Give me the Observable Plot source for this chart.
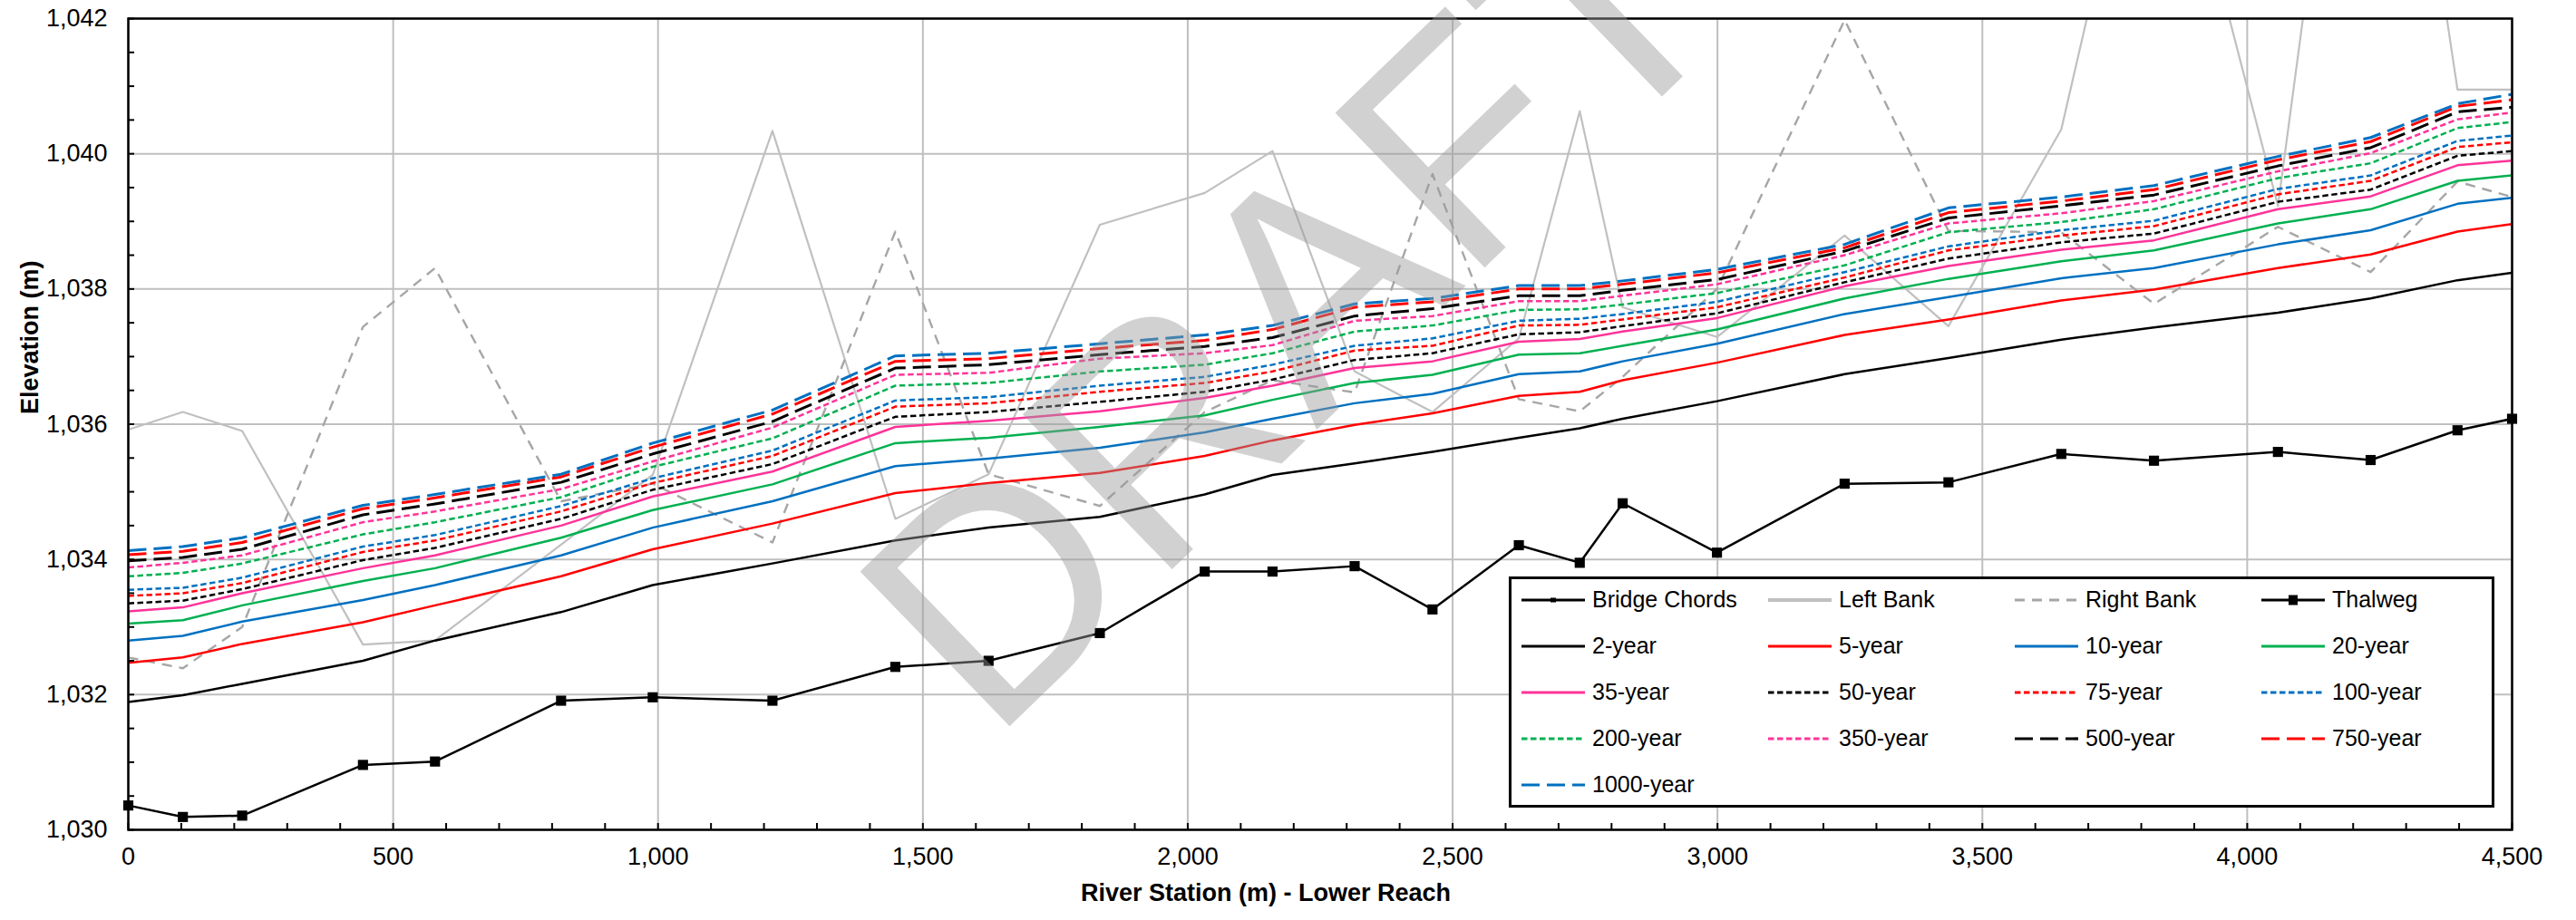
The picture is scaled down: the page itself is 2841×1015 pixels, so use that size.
<!DOCTYPE html>
<html>
<head>
<meta charset="utf-8">
<script src="https://cdn.jsdelivr.net/npm/d3@7"></script>
<script src="https://cdn.jsdelivr.net/npm/@observablehq/plot@0.6"></script>
<style>
  html, body { margin: 0; padding: 0; background: #fff; }
  #chart { position: relative; width: 2841px; height: 1015px; font-family: "Liberation Sans", Arial, Helvetica, sans-serif; }
  #legend { position: absolute; left: 1664px; top: 636px; width: 1087px; height: 255px; box-sizing: border-box;
            border: 3px solid #000; background: #fff; display: grid;
            grid-template-columns: repeat(4, 272px); grid-auto-rows: 51px; padding: 0 0 0 11px; }
  .item { display: flex; align-items: center; font-size: 25px; color: #000; white-space: nowrap; position: relative; top: -3px; }
  .item svg { margin-right: 6px; flex: none; }
</style>
</head>
<body>
<div id="chart"></div>
<script>
// River stations (m) of the surveyed cross sections, lower reach
const stations = [0, 103, 215, 443, 579, 817, 990, 1216, 1448, 1624, 1834, 2032, 2160, 2315, 2462, 2625, 2740, 2821, 2999, 3240, 3436, 3649, 3824, 4058, 4233, 4397, 4500];

// Channel geometry (m)
const thalweg   = [1030.36, 1030.19, 1030.21, 1030.96, 1031.01, 1031.91, 1031.96, 1031.91, 1032.41, 1032.50, 1032.91, 1033.82, 1033.82, 1033.90, 1033.26, 1034.21, 1033.95, 1034.83, 1034.10, 1035.12, 1035.14, 1035.56, 1035.46, 1035.59, 1035.47, 1035.91, 1036.08];
const leftBank  = [1035.92, 1036.18, 1035.90, 1032.74, 1032.80, 1034.22, 1035.25, 1040.34, 1034.60, 1035.26, 1038.95, 1039.42, 1040.04, 1036.78, 1036.18, 1037.27, 1040.63, 1037.73, 1037.29, 1038.79, 1037.45, 1040.36, 1046.30, 1039.23, 1049.50, 1040.95, 1040.95];
const rightBank = [1032.55, 1032.39, 1033.00, 1037.44, 1038.31, 1034.86, 1035.12, 1034.25, 1038.85, 1035.26, 1034.79, 1036.18, 1036.65, 1036.47, 1039.70, 1036.37, 1036.19, 1036.70, 1038.00, 1041.98, 1038.86, 1038.84, 1037.78, 1038.92, 1038.25, 1039.59, 1039.36];

// Water surface elevations (m) by return period
const wse2yr    = [1031.89, 1031.99, 1032.16, 1032.50, 1032.80, 1033.22, 1033.62, 1033.94, 1034.28, 1034.47, 1034.63, 1034.96, 1035.25, 1035.42, 1035.59, 1035.80, 1035.94, 1036.08, 1036.34, 1036.74, 1036.98, 1037.25, 1037.43, 1037.65, 1037.86, 1038.13, 1038.24];
const wse5yr    = [1032.47, 1032.55, 1032.75, 1033.07, 1033.32, 1033.75, 1034.15, 1034.53, 1034.98, 1035.13, 1035.28, 1035.53, 1035.76, 1035.99, 1036.16, 1036.42, 1036.48, 1036.65, 1036.91, 1037.32, 1037.55, 1037.83, 1037.99, 1038.31, 1038.51, 1038.85, 1038.96];
const wse10yr   = [1032.80, 1032.87, 1033.08, 1033.40, 1033.62, 1034.06, 1034.47, 1034.86, 1035.38, 1035.49, 1035.65, 1035.88, 1036.08, 1036.31, 1036.45, 1036.74, 1036.78, 1036.93, 1037.19, 1037.63, 1037.88, 1038.16, 1038.31, 1038.66, 1038.87, 1039.26, 1039.35];
const wse20yr   = [1033.05, 1033.10, 1033.32, 1033.68, 1033.87, 1034.32, 1034.73, 1035.11, 1035.72, 1035.80, 1035.96, 1036.13, 1036.36, 1036.61, 1036.73, 1037.03, 1037.05, 1037.16, 1037.40, 1037.86, 1038.15, 1038.41, 1038.57, 1038.97, 1039.18, 1039.60, 1039.68];
const wse35yr   = [1033.23, 1033.29, 1033.50, 1033.87, 1034.06, 1034.50, 1034.93, 1035.30, 1035.96, 1036.05, 1036.19, 1036.39, 1036.57, 1036.83, 1036.93, 1037.22, 1037.26, 1037.37, 1037.57, 1038.04, 1038.34, 1038.58, 1038.72, 1039.18, 1039.37, 1039.83, 1039.90];
const wse50yr   = [1033.35, 1033.39, 1033.56, 1033.99, 1034.17, 1034.60, 1035.03, 1035.41, 1036.11, 1036.18, 1036.33, 1036.48, 1036.66, 1036.95, 1037.05, 1037.33, 1037.36, 1037.45, 1037.64, 1038.10, 1038.45, 1038.69, 1038.82, 1039.29, 1039.47, 1039.97, 1040.04];
const wse75yr   = [1033.46, 1033.50, 1033.65, 1034.11, 1034.28, 1034.71, 1035.13, 1035.53, 1036.26, 1036.31, 1036.48, 1036.61, 1036.78, 1037.09, 1037.16, 1037.46, 1037.47, 1037.55, 1037.73, 1038.17, 1038.57, 1038.79, 1038.93, 1039.40, 1039.60, 1040.10, 1040.17];
const wse100yr  = [1033.55, 1033.58, 1033.73, 1034.19, 1034.36, 1034.79, 1035.20, 1035.61, 1036.35, 1036.40, 1036.57, 1036.70, 1036.88, 1037.16, 1037.27, 1037.53, 1037.56, 1037.63, 1037.81, 1038.25, 1038.63, 1038.87, 1039.01, 1039.48, 1039.68, 1040.19, 1040.27];
const wse200yr  = [1033.75, 1033.80, 1033.94, 1034.37, 1034.55, 1034.92, 1035.37, 1035.79, 1036.57, 1036.61, 1036.78, 1036.88, 1037.05, 1037.37, 1037.46, 1037.69, 1037.70, 1037.77, 1037.94, 1038.35, 1038.84, 1038.99, 1039.18, 1039.64, 1039.86, 1040.38, 1040.47];
const wse350yr  = [1033.88, 1033.95, 1034.06, 1034.55, 1034.71, 1035.04, 1035.45, 1035.95, 1036.73, 1036.76, 1036.97, 1037.05, 1037.17, 1037.53, 1037.60, 1037.82, 1037.82, 1037.90, 1038.07, 1038.50, 1038.97, 1039.12, 1039.30, 1039.74, 1040.01, 1040.51, 1040.61];
const wse500yr  = [1033.98, 1034.03, 1034.15, 1034.66, 1034.82, 1035.14, 1035.56, 1036.04, 1036.83, 1036.88, 1037.03, 1037.15, 1037.28, 1037.60, 1037.71, 1037.90, 1037.90, 1037.98, 1038.14, 1038.56, 1039.05, 1039.23, 1039.39, 1039.82, 1040.09, 1040.62, 1040.69];
const wse750yr  = [1034.07, 1034.12, 1034.25, 1034.75, 1034.91, 1035.22, 1035.66, 1036.15, 1036.93, 1036.97, 1037.12, 1037.24, 1037.40, 1037.73, 1037.81, 1038.00, 1038.00, 1038.07, 1038.24, 1038.61, 1039.13, 1039.30, 1039.47, 1039.91, 1040.18, 1040.70, 1040.80];
const wse1000yr = [1034.13, 1034.19, 1034.32, 1034.80, 1034.96, 1035.26, 1035.72, 1036.21, 1037.01, 1037.05, 1037.19, 1037.32, 1037.46, 1037.78, 1037.86, 1038.05, 1038.05, 1038.12, 1038.29, 1038.66, 1039.20, 1039.36, 1039.53, 1039.96, 1040.24, 1040.74, 1040.88];

// Axis ticks
const xMajorTicks = [0, 500, 1000, 1500, 2000, 2500, 3000, 3500, 4000, 4500];
const yMajorTicks = [1030, 1032, 1034, 1036, 1038, 1040, 1042];
const xMinorTicks = d3.range(0, 4501, 100);
const yMinorTicks = d3.range(1030, 1042.01, 0.5);

// Line styles
const DOT = "6.5,3.5", DASH = "20,8", BANK_DASH = "11,8";
const series = [
  {name: "Bridge Chords", values: null,      stroke: "#000000", dash: null,      width: 3,   marker: "small"},
  {name: "Left Bank",     values: leftBank,  stroke: "#c0c0c0", dash: null,      width: 2.2},
  {name: "Right Bank",    values: rightBank, stroke: "#a6a6a6", dash: BANK_DASH, width: 2.4},
  {name: "Thalweg",       values: thalweg,   stroke: "#000000", dash: null,      width: 2.5, marker: "square"},
  {name: "2-year",        values: wse2yr,    stroke: "#000000", dash: null,      width: 2.5},
  {name: "5-year",        values: wse5yr,    stroke: "#ff0000", dash: null,      width: 2.5},
  {name: "10-year",       values: wse10yr,   stroke: "#0070c0", dash: null,      width: 2.5},
  {name: "20-year",       values: wse20yr,   stroke: "#00b050", dash: null,      width: 2.5},
  {name: "35-year",       values: wse35yr,   stroke: "#ff3399", dash: null,      width: 2.5},
  {name: "50-year",       values: wse50yr,   stroke: "#000000", dash: DOT,       width: 2.5},
  {name: "75-year",       values: wse75yr,   stroke: "#ff0000", dash: DOT,       width: 2.5},
  {name: "100-year",      values: wse100yr,  stroke: "#0070c0", dash: DOT,       width: 2.5},
  {name: "200-year",      values: wse200yr,  stroke: "#00b050", dash: DOT,       width: 2.5},
  {name: "350-year",      values: wse350yr,  stroke: "#ff3399", dash: DOT,       width: 2.5},
  {name: "500-year",      values: wse500yr,  stroke: "#000000", dash: DASH,      width: 3},
  {name: "750-year",      values: wse750yr,  stroke: "#ff0000", dash: DASH,      width: 3},
  {name: "1000-year",     values: wse1000yr, stroke: "#0070c0", dash: DASH,      width: 3}
];

const fontFamily = '"Liberation Sans", Arial, Helvetica, sans-serif';
const rows = (s) => stations.map((st, i) => ({station: st, elev: s.values[i]}));

const profileMarks = series.filter((s) => s.values).map((s) =>
  Plot.line(rows(s), {
    x: "station", y: "elev", stroke: s.stroke, strokeWidth: s.width,
    strokeDasharray: s.dash, strokeLinecap: s.dash ? "butt" : "round",
    strokeLinejoin: "round", clip: true
  })
);

const thalwegDots = Plot.dot(rows(series.find((s) => s.name === "Thalweg")), {
  x: "station", y: "elev", symbol: "square", r: 6.3, fill: "#000", stroke: "none"
});

const chart = Plot.plot({
  width: 2841,
  height: 1015,
  marginLeft: 141,
  marginRight: 71,
  marginTop: 20,
  marginBottom: 100,
  style: {fontFamily, fontSize: "27px", color: "#000", background: "#fff"},
  x: {domain: [0, 4500], axis: null},
  y: {domain: [1030, 1042], axis: null},
  marks: [
    Plot.gridX(xMajorTicks, {stroke: "#bfbfbf", strokeOpacity: 1, strokeWidth: 2}),
    Plot.gridY(yMajorTicks, {stroke: "#bfbfbf", strokeOpacity: 1, strokeWidth: 2}),
    ...profileMarks,
    thalwegDots,
    Plot.frame({stroke: "#000", strokeWidth: 2.5}),
    Plot.axisY(yMinorTicks, {anchor: "left", tickSize: -7, stroke: "#000", strokeWidth: 2, fill: "none", label: null}),
    Plot.axisX(xMinorTicks, {anchor: "bottom", tickSize: -7, stroke: "#000", strokeWidth: 2, fill: "none", label: null}),
    Plot.axisY(yMajorTicks, {anchor: "left", tickSize: 0, tickPadding: 23, tickFormat: d3.format(","), fontSize: 27, fill: "#000", label: null}),
    Plot.axisX(xMajorTicks, {anchor: "bottom", tickSize: 0, tickPadding: 19, tickFormat: d3.format(","), fontSize: 27, fill: "#000", label: null}),
    Plot.text(["Elevation (m)"], {frameAnchor: "left", rotate: -90, dx: -108, dy: -11, fontSize: 27, fontWeight: "bold", fill: "#000"}),
    Plot.text(["River Station (m) - Lower Reach"], {frameAnchor: "bottom", dx: -60, dy: 78, fontSize: 27, fontWeight: "bold", fill: "#000"}),
    // translucent watermark over the profiles
    Plot.text(["DRAFT"], {frameAnchor: "middle", rotate: -44, dx: -26, dy: -126, fontSize: 345, fill: "#999999", fillOpacity: 0.45})
  ]
});

const root = document.getElementById("chart");
root.appendChild(chart);

// Legend box drawn over the lower right of the plot area
const legend = d3.select(root).append("div").attr("id", "legend");
for (const s of series) {
  const item = legend.append("div").attr("class", "item");
  const sw = item.append("svg").attr("width", 72).attr("height", 24);
  sw.append("line").attr("x1", 0).attr("x2", 70).attr("y1", 12).attr("y2", 12)
    .attr("stroke", s.stroke).attr("stroke-width", s.name === "Left Bank" ? 4 : 3.2)
    .attr("stroke-dasharray", s.dash);
  if (s.marker === "square") sw.append("rect").attr("x", 30).attr("y", 6.5).attr("width", 10).attr("height", 11).attr("fill", "#000");
  if (s.marker === "small") sw.append("rect").attr("x", 32).attr("y", 9.5).attr("width", 6).attr("height", 5).attr("fill", "#000");
  item.append("span").text(s.name);
}
</script>
</body>
</html>
